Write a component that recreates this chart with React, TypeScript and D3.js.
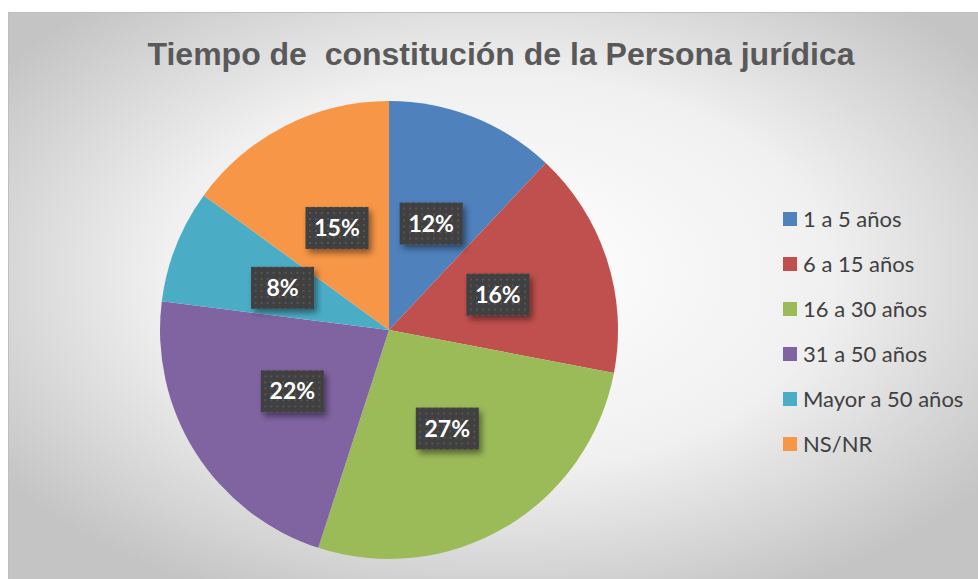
import React from 'react';
import * as d3 from 'd3';

const categories = ['1 a 5 años', '6 a 15 años', '16 a 30 años', '31 a 50 años', 'Mayor a 50 años', 'NS/NR'];
const values = [12, 16, 27, 22, 8, 15];
const colors = ['#4f81bd', '#c0504d', '#9bbb59', '#8064a2', '#4bacc6', '#f79646'];

const W = 978, H = 579;

export default function App() {
	// pie geometry
	const cx = 389, cy = 330, r = 229;
	const pie = d3.pie<number>().sort(null).value(d => d);
	const arcs = pie(values);
	const arcGen = d3.arc<d3.PieArcDatum<number>>().innerRadius(0).outerRadius(r);
	const labelArc = d3.arc<d3.PieArcDatum<number>>().innerRadius(r * 0.5).outerRadius(r * 0.5);
	const total = d3.sum(values);

	// legend spacing
	const legendY = d3.scalePoint<string>().domain(categories).range([219, 444]);

	return (
		<svg width={W} height={H} style={{ position: 'absolute', left: 0, top: 0 }}>
			<defs>
				<radialGradient id="bg" cx="0.5" cy="0.45" r="0.62">
					<stop offset="0" stopColor="#ffffff" />
					<stop offset="0.55" stopColor="#f0f0f0" />
					<stop offset="1" stopColor="#c4c4c4" />
				</radialGradient>
				<pattern id="dots" width="6" height="6" patternUnits="userSpaceOnUse">
					<rect width="6" height="6" fill="#404040" />
					<rect x="2" y="2" width="2" height="2" fill="#555555" />
				</pattern>
				<filter id="shadow" x="-30%" y="-30%" width="170%" height="170%">
					<feDropShadow dx="3" dy="4" stdDeviation="3" floodColor="#000" floodOpacity="0.45" />
				</filter>
			</defs>
			<rect x={0} y={0} width={W} height={H} fill="#fff" />
			<rect x={8.5} y={12.5} width={W} height={H} fill="url(#bg)" stroke="#bfbfbf" />
			<text x={501} y={65} textAnchor="middle" fontFamily="Liberation Sans, Arial, sans-serif"
				fontWeight="bold" fontSize={32} fill="#595959" textLength={707} lengthAdjust="spacingAndGlyphs"
				style={{ whiteSpace: 'pre' }}>Tiempo de  constitución de la Persona jurídica</text>

			<g transform={`translate(${cx},${cy})`}>
				{arcs.map((a, i) => (
					<path key={i} d={arcGen(a) || ''} fill={colors[i]} />
				))}
				{arcs.map((a, i) => {
					const [lx, ly] = labelArc.centroid(a);
					const txt = `${Math.round((a.data / total) * 100)}%`;
					const bw = 63, bh = 42;
					return (
						<g key={'l' + i} transform={`translate(${lx},${ly})`}>
							<rect x={-bw / 2} y={-bh / 2} width={bw} height={bh} fill="url(#dots)" filter="url(#shadow)" />
							<text x={0} y={8} textAnchor="middle" fontFamily="Lato, 'Open Sans', sans-serif"
								fontWeight="bold" fontSize={23} fill="#fff">{txt}</text>
						</g>
					);
				})}
			</g>

			{categories.map((c, i) => (
				<g key={c} transform={`translate(783,${legendY(c)})`}>
					<rect x={0} y={-7} width={14} height={14} fill={colors[i]} />
					<text x={20} y={8} fontFamily="Lato, 'Open Sans', sans-serif" fontSize={22} fill="#404040">{c}</text>
				</g>
			))}
		</svg>
	);
}
